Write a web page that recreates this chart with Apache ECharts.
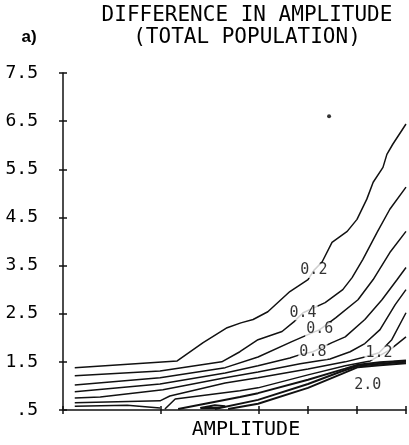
<!DOCTYPE html>
<html>
<head>
<meta charset="utf-8">
<script src="https://cdn.jsdelivr.net/npm/echarts@6/dist/echarts.min.js"></script>
<style>
  html, body { margin: 0; padding: 0; background: #fff; }
  #chart { width: 409px; height: 445px; }
</style>
</head>
<body>
<div id="chart"></div>
<script>
// Contour levels of the amplitude difference
const levels = [0.2, 0.4, 0.6, 0.8, 1.0, 1.2, 1.4, 1.6, 1.8, 2.0];

// Each contour is a list of polyline segments of [amplitude, y] points
const contour02 = [[[0.24,1.38],[2.33,1.52],[2.86,1.90],[3.35,2.21],[3.63,2.31],[3.88,2.38],[4.18,2.54],[4.63,2.96],[5.00,3.21],[5.12,3.40],[5.29,3.58],[5.49,3.98],[5.80,4.21],[6.00,4.46],[6.20,4.88],[6.33,5.23],[6.53,5.54],[6.61,5.81],[6.73,6.02],[7.0,6.44]]];
const contour04 = [[[0.24,1.21],[1.98,1.31],[3.24,1.50],[3.61,1.71],[3.98,1.96],[4.47,2.13],[4.71,2.33],[4.90,2.52],[5.35,2.73],[5.71,3.0],[5.90,3.25],[6.12,3.63],[6.41,4.19],[6.67,4.67],[7.0,5.13]]];
const contour06 = [[[0.24,1.02],[1.98,1.17],[3.31,1.38],[3.98,1.60],[4.67,1.92],[4.94,2.04],[5.24,2.17],[5.57,2.42],[6.02,2.79],[6.33,3.21],[6.67,3.77],[7.0,4.21]]];
const contour08 = [[[0.24,0.88],[1.98,1.04],[3.31,1.27],[3.98,1.42],[4.63,1.58],[4.84,1.65],[5.10,1.71],[5.49,1.90],[5.76,2.02],[6.16,2.38],[6.51,2.79],[6.82,3.21],[7.0,3.46]]];
const contour10 = [[[0.24,0.75],[0.76,0.77],[2.04,0.92],[3.31,1.17],[3.98,1.29],[4.84,1.46],[5.45,1.56],[5.86,1.71],[6.16,1.88],[6.47,2.17],[6.78,2.69],[7.0,3.0]]];
const contour12 = [[[0.24,0.65],[1.98,0.69],[2.18,0.79],[3.31,1.06],[3.98,1.17],[5.0,1.35],[5.76,1.50],[6.16,1.60],[6.45,1.69],[6.71,1.96],[7.0,2.52]]];
const contour14 = [
  [[0.24,0.58],[1.31,0.60],[1.98,0.54]],
  [[2.08,0.52],[2.29,0.73],[3.61,0.90],[3.98,0.96],[5.0,1.23],[5.76,1.42],[6.27,1.52],[6.67,1.75],[7.0,2.02]]
];
const contour16 = [[[2.35,0.52],[2.90,0.63],[3.61,0.77],[3.98,0.85],[5.0,1.13],[5.76,1.36],[6.02,1.44],[6.47,1.49],[7.0,1.53]]];
const contour18 = [
  [[3.10,0.52],[3.98,0.71],[5.0,1.04],[5.65,1.29],[6.02,1.42],[6.47,1.46],[7.0,1.50]],
  [[2.80,0.54],[3.10,0.60],[3.31,0.58],[3.10,0.54],[2.80,0.54]]
];
const contour20 = [[[3.37,0.52],[3.98,0.63],[5.0,0.96],[5.69,1.25],[6.02,1.39],[6.47,1.43],[7.0,1.47]]];
const contours = [contour02, contour04, contour06, contour08, contour10, contour12, contour14, contour16, contour18, contour20];

// Contour labels: level and where it is written
const labelLevels = [0.2, 0.4, 0.6, 0.8, 1.2, 2.0];
const labelX = [5.12, 4.90, 5.24, 5.10, 6.45, 6.22];
const labelY = [3.40, 2.52, 2.17, 1.71, 1.69, 1.02];

// Isolated point in the upper field
const spot = [[5.43, 6.60]];

// Axis ticks
const yTicks = [0.5, 1.5, 2.5, 3.5, 4.5, 5.5, 6.5, 7.5];
const xTicks = [0, 2, 4, 5, 6, 7];

const MONO = '"DejaVu Sans Mono", monospace';
const INK = '#111';

const series = [];
contours.forEach((segs, i) => {
  segs.forEach(seg => {
    series.push({
      name: levels[i].toFixed(1),
      type: 'line',
      data: seg,
      symbol: 'none',
      smooth: false,
      silent: true,
      lineStyle: { color: INK, width: levels[i] >= 1.6 ? 2 : 1.5 },
      z: 2
    });
  });
});

series.push({
  type: 'scatter',
  data: labelLevels.map((v, i) => [labelX[i], labelY[i], v]),
  symbolSize: 1,
  itemStyle: { color: 'rgba(0,0,0,0)' },
  label: {
    show: true,
    position: 'inside',
    formatter: p => p.value[2].toFixed(1),
    fontFamily: MONO,
    fontSize: 15,
    color: '#000',
    backgroundColor: '#fff',
    padding: [0, 1]
  },
  z: 5
});

series.push({
  type: 'scatter',
  data: spot,
  symbolSize: 4,
  itemStyle: { color: '#000' },
  z: 5
});

const chart = echarts.init(document.getElementById('chart'), null, { renderer: 'canvas' });
chart.setOption({
  animation: false,
  backgroundColor: '#fff',
  grid: { left: 63, right: 3, top: 73, bottom: 35, containLabel: false },
  xAxis: [
    {
      type: 'value', min: 0, max: 7,
      axisLine: { show: true, lineStyle: { color: INK, width: 1.5 } },
      axisTick: { show: true, inside: false, length: 4, customValues: xTicks, lineStyle: { color: INK, width: 1.5 } },
      axisLabel: { show: false },
      splitLine: { show: false }
    },
    {
      type: 'value', min: 0, max: 7, position: 'bottom',
      axisLine: { show: false },
      axisTick: { show: true, inside: true, length: 4, customValues: xTicks, lineStyle: { color: INK, width: 1.5 } },
      axisLabel: { show: false },
      splitLine: { show: false }
    }
  ],
  yAxis: [
    {
      type: 'value', min: 0.5, max: 7.5,
      axisLine: { show: true, lineStyle: { color: INK, width: 1.5 } },
      axisTick: { show: true, inside: false, length: 4, customValues: yTicks, lineStyle: { color: INK, width: 1.5 } },
      axisLabel: {
        show: true, customValues: yTicks, margin: 25,
        formatter: v => (v === 0.5 ? '.5' : v.toFixed(1)),
        fontFamily: MONO, fontSize: 18, color: '#000'
      },
      splitLine: { show: false }
    },
    {
      type: 'value', min: 0.5, max: 7.5, position: 'left',
      axisLine: { show: false },
      axisTick: { show: true, inside: true, length: 4, customValues: yTicks, lineStyle: { color: INK, width: 1.5 } },
      axisLabel: { show: false },
      splitLine: { show: false }
    }
  ],
  graphic: [
    { type: 'text', x: 247, y: 16, style: { text: 'DIFFERENCE IN AMPLITUDE', font: '21px ' + MONO, fill: '#000', align: 'center', verticalAlign: 'middle' } },
    { type: 'text', x: 247, y: 38, style: { text: '(TOTAL POPULATION)', font: '21px ' + MONO, fill: '#000', align: 'center', verticalAlign: 'middle' } },
    { type: 'text', x: 29, y: 37, style: { text: 'a)', font: 'bold 17px "Liberation Sans", Arial, sans-serif', fill: '#000', align: 'center', verticalAlign: 'middle' } },
    { type: 'text', x: 246, y: 430, style: { text: 'AMPLITUDE', font: '20px ' + MONO, fill: '#000', align: 'center', verticalAlign: 'middle' } }
  ],
  series: series
});
</script>
</body>
</html>
